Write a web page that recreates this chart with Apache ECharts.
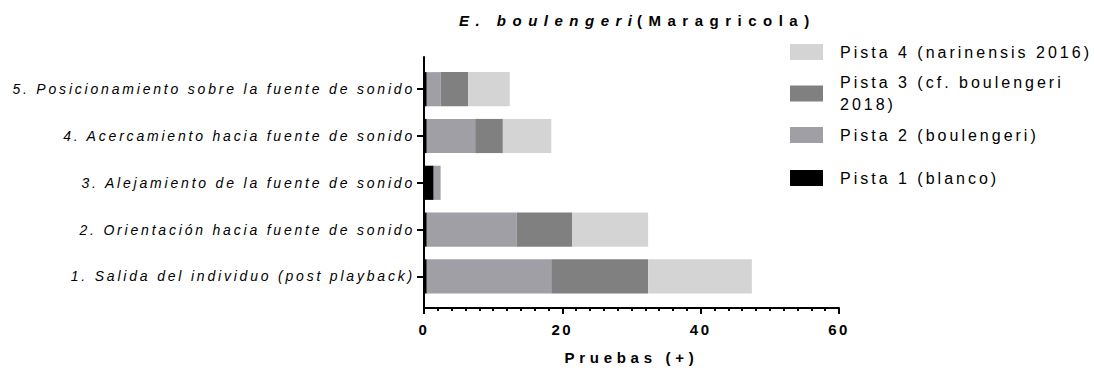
<!DOCTYPE html>
<html>
<head>
<meta charset="utf-8">
<script src="https://cdn.jsdelivr.net/npm/echarts@6/dist/echarts.min.js"></script>
<style>
  html, body { margin: 0; padding: 0; background: #fff; }
  #chart { width: 1094px; height: 372px; }
</style>
</head>
<body>
<div id="chart"></div>
<script>
// ---- data ----
const categories = [
  "1. Salida del individuo (post playback)",
  "2. Orientación hacia fuente de sonido",
  "3. Alejamiento de la fuente de sonido",
  "4. Acercamiento hacia fuente de sonido",
  "5. Posicionamiento sobre la fuente de sonido"
];
const seriesNames = [
  "Pista 1 (blanco)",
  "Pista 2 (boulengeri)",
  "Pista 3 (cf. boulengeri 2018)",
  "Pista 4 (narinensis 2016)"
];
const pista1 = [0.4, 0.4, 1.4, 0.4, 0.4];
const pista2 = [18, 13, 1, 7, 2];
const pista3 = [14, 8, 0, 4, 4];
const pista4 = [15, 11, 0, 7, 6];
const xTickLabels = ["0", "20", "40", "60"];
const titleSpecies = "E. boulengeri";
const titleSite = "(Maragricola)";
const xAxisName = "Pruebas (+)";

// ---- styles ----
const FONT = "'Liberation Sans', Arial, sans-serif";
const colors = ["#000000", "#a09fa5", "#808080", "#d4d4d4"];
const seriesValues = [pista1, pista2, pista3, pista4];

const chart = echarts.init(document.getElementById('chart'), null, { renderer: 'svg' });

function legendFor(name, top, extra) {
  return Object.assign({
    data: [name],
    left: 790,
    top: top,
    orient: 'vertical',
    padding: 0,
    itemWidth: 33,
    itemHeight: 16,
    icon: 'rect',
    selectedMode: false,
    textStyle: { fontFamily: FONT, fontSize: 16, color: '#000', lineHeight: 16, padding: [0, 0, 0, 12] }
  }, extra || {});
}

const option = {
  animation: false,
  backgroundColor: '#fff',
  title: [
    { text: titleSpecies, left: 459, top: 11, padding: 0,
      textStyle: { fontFamily: FONT, fontSize: 15, fontWeight: 'bold', fontStyle: 'italic', color: '#000', lineHeight: 18 } },
    { text: titleSite, left: 637, top: 11, padding: 0,
      textStyle: { fontFamily: FONT, fontSize: 15, fontWeight: 'bold', color: '#000', lineHeight: 18 } }
  ],
  legend: [
    legendFor(seriesNames[3], 44),
    legendFor(seriesNames[2], 71.5, {
      formatter: n => n.replace(' 2018', '\n2018'),
      textStyle: { fontFamily: FONT, fontSize: 16, color: '#000', lineHeight: 22, padding: [0, 0, 0, 12] }
    }),
    legendFor(seriesNames[1], 127),
    legendFor(seriesNames[0], 170)
  ],
  grid: [
    { left: 424, top: 57, width: 415, height: 251, containLabel: false },
    { left: 424, top: 65.8, width: 415, height: 234, containLabel: false }
  ],
  xAxis: [
    {
      gridIndex: 0, type: 'value', min: 0, max: 60, interval: 20,
      axisLine: { show: true, lineStyle: { color: '#000', width: 2 } },
      axisTick: { show: true, length: 6, lineStyle: { color: '#000', width: 2 } },
      minorTick: { show: true, splitNumber: 10, length: 3, lineStyle: { color: '#000', width: 2 } },
      splitLine: { show: false },
      minorSplitLine: { show: false },
      axisLabel: {
        margin: 14, fontFamily: FONT, fontSize: 15, fontWeight: 'bold', color: '#000',
        formatter: v => xTickLabels[Math.round(v / 20)] || String(v)
      },
      name: xAxisName, nameLocation: 'middle', nameGap: 42,
      nameTextStyle: { fontFamily: FONT, fontSize: 15, fontWeight: 'bold', color: '#000' }
    },
    { gridIndex: 1, type: 'value', min: 0, max: 60, show: false }
  ],
  yAxis: [
    {
      gridIndex: 0, type: 'value', min: 0, max: 1,
      axisLine: { show: true, lineStyle: { color: '#000', width: 2 } },
      axisTick: { show: false }, axisLabel: { show: false }, splitLine: { show: false }
    },
    {
      gridIndex: 1, type: 'category', data: categories,
      axisLine: { show: false },
      axisTick: { show: true, alignWithLabel: true, length: 7, lineStyle: { color: '#000', width: 2 } },
      axisLabel: { margin: 9, fontFamily: FONT, fontSize: 14, fontStyle: 'italic', color: '#000' },
      splitLine: { show: false }
    }
  ],
  series: seriesNames.map((name, i) => ({
    name: name,
    type: 'bar',
    stack: 'total',
    xAxisIndex: 1,
    yAxisIndex: 1,
    barCategoryGap: '27%',
    itemStyle: { color: colors[i] },
    emphasis: { disabled: true },
    data: seriesValues[i]
  }))
};

chart.setOption(option);

function applySpacing() {
  const texts = document.querySelectorAll('#chart text');
  texts.forEach(t => {
    const s = t.textContent.trim();
    let sp = 3;
    if (categories.includes(s)) sp = 2.8;
    else if (s === titleSpecies || s === titleSite) sp = 6.5;
    else if (xTickLabels.includes(s)) sp = 2.5;
    else if (s === xAxisName) sp = 4.7;
    t.style.letterSpacing = sp + 'px';
  });
}
chart.on('finished', applySpacing);
applySpacing();
setTimeout(applySpacing, 0);
setTimeout(applySpacing, 100);
</script>
</body>
</html>
